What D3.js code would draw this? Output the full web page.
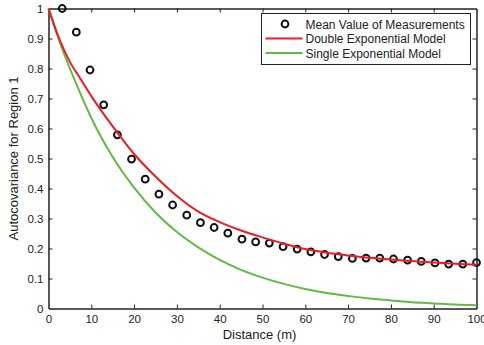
<!DOCTYPE html>
<html>
<head>
<meta charset="utf-8">
<script src="https://cdn.jsdelivr.net/npm/d3@7"></script>
<style>
  body { margin: 0; background: #fff; }
  svg { display: block; font-family: "Liberation Sans", Arial, sans-serif; }
</style>
</head>
<body>
<div id="chart"></div>
<script>
// measured means (circles)
const distances = [3.2, 6.5, 9.7, 12.9, 16.1, 19.4, 22.6, 25.8, 29.0, 32.3, 35.5, 38.7, 41.9, 45.2, 48.4, 51.6,
  54.8, 58.1, 61.3, 64.5, 67.7, 71.0, 74.2, 77.4, 80.6, 83.9, 87.1, 90.3, 93.5, 96.8, 100];
const meanValues = [1.0, 0.921, 0.795, 0.679, 0.579, 0.498, 0.431, 0.381, 0.345, 0.311, 0.286, 0.270, 0.251, 0.231,
  0.222, 0.218, 0.206, 0.198, 0.189, 0.180, 0.173, 0.167, 0.168, 0.168, 0.165, 0.161, 0.157, 0.152, 0.148, 0.148, 0.153];

// model curves
const modelX = [0, 2.5, 5, 7.5, 10, 15, 20, 25, 30, 35, 40, 45, 50, 55, 60, 65, 70, 75, 80, 85, 90, 95, 100];
const doubleExp = [1, 0.9, 0.822, 0.765, 0.708, 0.607, 0.515, 0.44, 0.375, 0.323, 0.288, 0.26, 0.237, 0.216,
  0.198, 0.186, 0.177, 0.169, 0.163, 0.158, 0.153, 0.149, 0.146];
const singleExp = [1, 0.893, 0.80, 0.715, 0.635, 0.505, 0.403, 0.32, 0.255, 0.204, 0.162, 0.129, 0.103, 0.082,
  0.065, 0.052, 0.042, 0.033, 0.027, 0.021, 0.017, 0.013, 0.011];

const xTicks = [0, 10, 20, 30, 40, 50, 60, 70, 80, 90, 100];
const yTicks = [0, 0.1, 0.2, 0.3, 0.4, 0.5, 0.6, 0.7, 0.8, 0.9, 1];
const legendLabels = ['Mean Value of Measurements', 'Double Exponential Model', 'Single Exponential Model'];

const W = 484, H = 345;
const margin = { top: 8.5, right: 7.5, bottom: 36.5, left: 48.5 };
const width = W - margin.left - margin.right;
const height = H - margin.top - margin.bottom;
const red = '#ed1c24', green = '#62b946', ink = '#222';

let svg = d3.select('#chart').append('svg')
  .attr('width', W)
  .attr('height', H);

let chart = svg.append('g')
  .attr('transform', `translate(${margin.left}, ${margin.top})`);

let x = d3.scaleLinear().domain([0, 100]).range([0, width]);
let y = d3.scaleLinear().domain([0, 1]).range([height, 0]);

// axes, ticks inward on all four sides
const fmtY = d => d === 0 || d === 1 ? String(d) : d.toFixed(1);
let xAxis = chart.append('g').attr('transform', `translate(0, ${height})`)
  .call(d3.axisBottom(x).tickValues(xTicks).tickSizeInner(-4).tickSizeOuter(0).tickPadding(6));
let xTop = chart.append('g')
  .call(d3.axisTop(x).tickValues(xTicks).tickSizeInner(-4).tickSizeOuter(0).tickFormat(''));
let yAxis = chart.append('g')
  .call(d3.axisLeft(y).tickValues(yTicks).tickSizeInner(-4).tickSizeOuter(0).tickPadding(5).tickFormat(fmtY));
let yRight = chart.append('g').attr('transform', `translate(${width}, 0)`)
  .call(d3.axisRight(y).tickValues(yTicks).tickSizeInner(-4).tickSizeOuter(0).tickFormat(''));

[xAxis, xTop, yAxis, yRight].forEach(a => {
  a.select('.domain').attr('stroke', ink).attr('stroke-width', 1.5);
  a.selectAll('.tick line').attr('stroke', ink).attr('stroke-width', 1);
  a.selectAll('.tick text').attr('fill', ink).style('font-size', '11.5px');
});
// drop end ticks that sit on the box edges
xAxis.selectAll('.tick line').filter(d => d === 0 || d === 100).remove();
xTop.selectAll('.tick line').filter(d => d === 0 || d === 100).remove();
yAxis.selectAll('.tick line').filter(d => d === 0 || d === 1).remove();
yRight.selectAll('.tick line').filter(d => d === 0 || d === 1).remove();

// circles
chart.append('g').selectAll('circle')
  .data(distances)
  .join('circle')
  .attr('cx', d => x(d))
  .attr('cy', (d, i) => y(meanValues[i]))
  .attr('r', 3.4)
  .attr('fill', 'none')
  .attr('stroke', '#111')
  .attr('stroke-width', 2);

// model lines
let line = d3.line().curve(d3.curveMonotoneX)
  .x(d => x(d[0]))
  .y(d => y(d[1]));
chart.append('path')
  .datum(modelX.map((d, i) => [d, singleExp[i]]))
  .attr('fill', 'none').attr('stroke', green).attr('stroke-width', 2)
  .attr('d', line);
chart.append('path')
  .datum(modelX.map((d, i) => [d, doubleExp[i]]))
  .attr('fill', 'none').attr('stroke', red).attr('stroke-width', 2)
  .attr('d', line);

// axis titles
svg.append('text')
  .attr('x', margin.left + width / 2 - 3)
  .attr('y', 339)
  .attr('text-anchor', 'middle')
  .attr('fill', ink)
  .style('font-size', '13px')
  .text('Distance (m)');
svg.append('text')
  .attr('transform', `translate(18, ${margin.top + height / 2}) rotate(-90)`)
  .attr('text-anchor', 'middle')
  .attr('fill', ink)
  .style('font-size', '13px')
  .text('Autocovariance for Region 1');

// legend
let legend = svg.append('g').attr('transform', 'translate(261.5, 13.5)');
legend.append('rect')
  .attr('width', 209).attr('height', 51)
  .attr('fill', '#fff').attr('stroke', ink).attr('stroke-width', 1);
legendLabels.forEach((label, i) => {
  let cy = 10.5 + i * 14.5;
  if (i === 0) {
    legend.append('circle').attr('cx', 23.5).attr('cy', cy).attr('r', 3.4)
      .attr('fill', 'none').attr('stroke', '#111').attr('stroke-width', 2);
  } else {
    legend.append('line').attr('x1', 4).attr('x2', 41).attr('y1', cy).attr('y2', cy)
      .attr('stroke', i === 1 ? red : green).attr('stroke-width', 2);
  }
  legend.append('text')
    .attr('x', 44).attr('y', cy + 4.5)
    .attr('fill', ink)
    .style('font-size', '12px')
    .text(label);
});
</script>
</body>
</html>
